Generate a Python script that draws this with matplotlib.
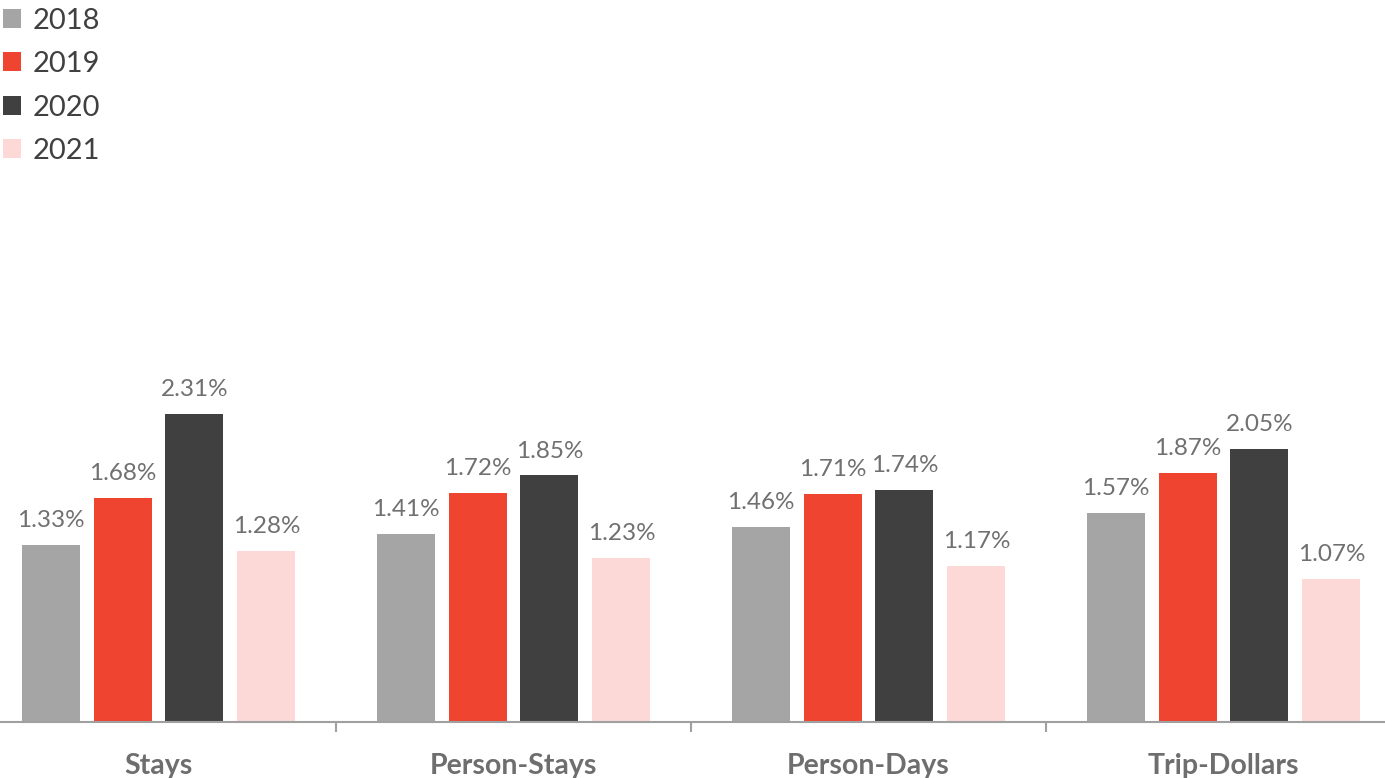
import numpy as np
import matplotlib.pyplot as plt
from matplotlib.patches import Patch

plt.rcParams['font.family'] = ['Lato', 'DejaVu Sans']

categories = ['Stays', 'Person-Stays', 'Person-Days', 'Trip-Dollars']
years = ['2018', '2019', '2020', '2021']
v2018 = [1.33, 1.41, 1.46, 1.57]
v2019 = [1.68, 1.72, 1.71, 1.87]
v2020 = [2.31, 1.85, 1.74, 2.05]
v2021 = [1.28, 1.23, 1.17, 1.07]
colors = ['#A5A5A5', '#EE4430', '#404040', '#FCD9D6']

W, H = 1385, 778
fig = plt.figure(figsize=(W / 100, H / 100), dpi=100)
ax = fig.add_axes([-19 / W, 56 / H, 1420 / W, 722 / H])

x = np.arange(len(categories))
offsets = [-0.304, -0.101, 0.101, 0.304]
width = 0.163
for vals, off, c in zip([v2018, v2019, v2020, v2021], offsets, colors):
    bars = ax.bar(x + off, vals, width, color=c, zorder=2)
    for b, v in zip(bars, vals):
        ax.annotate(f'{v:.2f}%', (b.get_x() + b.get_width() / 2, v),
                    xytext=(0, 10), textcoords='offset points',
                    ha='center', va='bottom', fontsize=17.5, color='#707070')

ax.set_xlim(-0.5, 3.5)
ax.set_ylim(0, 722 / 133.3)
for s in ['top', 'left', 'right']:
    ax.spines[s].set_visible(False)
ax.spines['bottom'].set_color('#A0A0A0')
ax.spines['bottom'].set_linewidth(1.5)
ax.set_yticks([])
ax.set_xticks(x)
ax.set_xticklabels(categories, fontsize=20.5, fontweight='bold', color='#6E6E6E')
ax.tick_params(axis='x', which='major', length=0, pad=22)
ax.set_xticks([0.5, 1.5, 2.5], minor=True)
ax.tick_params(axis='x', which='minor', length=7, width=1.5, color='#A0A0A0')

handles = [Patch(facecolor=c, label=y) for c, y in zip(colors, years)]
fig.legend(handles=handles, loc='upper left', bbox_to_anchor=(0.0, 0.994),
           frameon=False, fontsize=21, handlelength=0.62, handleheight=0.62,
           handletextpad=0.4, labelspacing=0.6, borderaxespad=0.0,
           borderpad=0.1, labelcolor='#404040')

fig.savefig('out.png', dpi=100)
